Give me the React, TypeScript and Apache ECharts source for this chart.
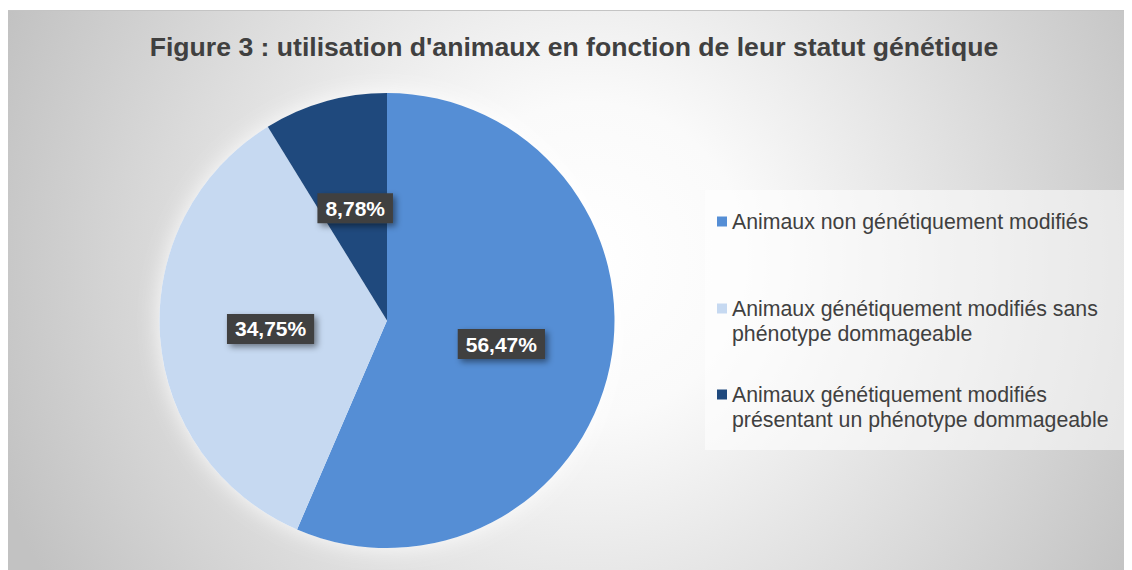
import React, { useEffect, useRef } from "react";
import * as echarts from "echarts";

const title = "Figure 3 : utilisation d'animaux en fonction de leur statut génétique";
const categories = [
  "Animaux non génétiquement modifiés",
  "Animaux génétiquement modifiés sans phénotype dommageable",
  "Animaux génétiquement modifiés présentant un phénotype dommageable",
];
const legendLines = [
  ["Animaux non génétiquement modifiés"],
  ["Animaux génétiquement modifiés sans", "phénotype dommageable"],
  ["Animaux génétiquement modifiés", "présentant un phénotype dommageable"],
];
const values = [56.47, 34.75, 8.78];
const colors = ["#558ed5", "#c6d9f1", "#1f497d"];

const FONT = "'Liberation Sans', Arial, sans-serif";
const W = 1125;
const H = 560;
const legendTops = [194, 256, 342];

export default function App() {
  const ref = useRef<HTMLDivElement>(null);
  useEffect(() => {
    if (!ref.current) return;
    const chart = echarts.init(ref.current, undefined, { renderer: "svg" });
    chart.setOption({
      animation: false,
      graphic: [
        {
          type: "rect",
          z: -10,
          silent: true,
          shape: { x: 0, y: 0, width: W, height: H },
          style: {
            fill: {
              type: "radial",
              global: true,
              x: 582,
              y: 250,
              r: 630,
              colorStops: [
                { offset: 0, color: "#ffffff" },
                { offset: 0.25, color: "#fafafa" },
                { offset: 1, color: "#c2c2c2" },
              ],
            },
          },
        },
        {
          type: "line",
          z: -5,
          silent: true,
          shape: { x1: 0, y1: 0.5, x2: W, y2: 0.5 },
          style: { stroke: "#c4c4c4", lineWidth: 1 },
        },
        {
          type: "rect",
          z: -4,
          silent: true,
          shape: { x: 698, y: 180, width: 423, height: 260 },
          style: { fill: "rgba(255,255,255,0.55)" },
        },
      ],
      title: {
        text: title,
        left: 562,
        top: 18,
        textAlign: "center",
        textStyle: {
          fontFamily: FONT,
          fontSize: 26.6,
          fontWeight: "bold",
          color: "#404040",
        },
      },
      legend: categories.map((name, i) => ({
        data: [name],
        orient: "vertical",
        left: 705,
        top: legendTops[i],
        icon: "rect",
        itemWidth: 10,
        itemHeight: 10,
        itemGap: 0,
        selectedMode: false,
        formatter: () =>
          legendLines[i].length > 1
            ? ["", ...legendLines[i]].join("\n")
            : legendLines[i][0],
        textStyle: {
          fontFamily: FONT,
          fontSize: 21.3,
          lineHeight: 25,
          color: "#404040",
        },
      })),
      series: [
        {
          type: "pie",
          name: "halo",
          silent: true,
          z: 1,
          center: [380, 310.5],
          radius: [0, 227.5],
          label: { show: false },
          labelLine: { show: false },
          emphasis: { disabled: true },
          itemStyle: {
            color: "#ffffff",
            shadowBlur: 22,
            shadowColor: "rgba(255,255,255,0.9)",
          },
          data: [{ name: "halo", value: 1 }],
        },
        {
          type: "pie",
          z: 2,
          center: [380, 310.5],
          radius: [0, 227.5],
          startAngle: 90,
          clockwise: true,
          avoidLabelOverlap: false,
          emphasis: { disabled: true },
          itemStyle: { borderWidth: 0 },
          label: {
            show: true,
            position: "inside",
            formatter: (p: any) => `${p.value.toFixed(2).replace(".", ",")}%`,
            fontFamily: FONT,
            fontSize: 21,
            fontWeight: "bold",
            color: "#ffffff",
            lineHeight: 24,
            backgroundColor: "#404040",
            padding: [3, 8],
            shadowColor: "rgba(0,0,0,0.45)",
            shadowBlur: 6,
            shadowOffsetX: 3,
            shadowOffsetY: 3,
          },
          labelLine: { show: false },
          data: categories.map((name, i) => ({
            name,
            value: values[i],
            itemStyle: { color: colors[i] },
          })),
        },
      ],
    });
    return () => chart.dispose();
  }, []);
  return (
    <div
      ref={ref}
      style={{ width: W, height: H, margin: "2px 0 0 -1px" }}
    />
  );
}
